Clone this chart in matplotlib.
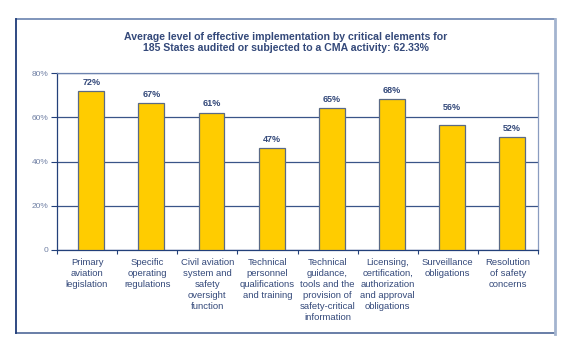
import numpy as np
import matplotlib
matplotlib.use("Agg")
import matplotlib.pyplot as plt
from matplotlib.lines import Line2D

plt.rcParams['font.family'] = ['Liberation Sans', 'DejaVu Sans']

# data
categories = ["Primary\naviation\nlegislation",
              "Specific\noperating\nregulations",
              "Civil aviation\nsystem and\nsafety\noversight\nfunction",
              "Technical\npersonnel\nqualifications\nand training",
              "Technical\nguidance,\ntools and the\nprovision of\nsafety-critical\ninformation",
              "Licensing,\ncertification,\nauthorization\nand approval\nobligations",
              "Surveillance\nobligations",
              "Resolution\nof safety\nconcerns"]
heights = [71.9, 66.3, 62.1, 46.0, 64.0, 68.1, 56.5, 51.2]
value_labels = ["72%", "67%", "61%", "47%", "65%", "68%", "56%", "52%"]
yticks = [0, 20, 40, 60, 80]
ytick_labels = ["0", "20%", "40%", "60%", "80%"]
title = ("Average level of effective implementation by critical elements for\n"
         "185 States audited or subjected to a CMA activity: 62.33%")

navy = "#23407A"
text_col = "#34497A"
tick_col = "#7080A4"
gold = "#FFCC00"

W, H = 572, 352
fig = plt.figure(figsize=(W / 100, H / 100), dpi=100)

# outer frame, each side a little different
def fline(x0, y0, x1, y1, color, lw):
    fig.add_artist(Line2D([x0 / W, x1 / W], [1 - y0 / H, 1 - y1 / H],
                          transform=fig.transFigure, color=color, lw=lw))

fline(16, 18.5, 555, 18.5, "#5C78A8", 1.1)
fline(16, 333, 555, 333, "#5D74A0", 1.3)
fline(16, 18.5, 16, 333, "#1F3C78", 1.3)
fline(555, 18.5, 555, 333.5, "#A4B4CF", 2.0)

ax = fig.add_axes([57 / W, 1 - 250 / H, 481 / W, 177 / H])
x = np.arange(len(categories))
ax.bar(x + 0.07, heights, width=0.43, color=gold, edgecolor="#5A6A86",
       linewidth=0.9, zorder=3)
lift = [0, 0, 0, 0, 0, 0, 6, 0]
for xi, h, lab, d in zip(x, heights, value_labels, lift):
    ax.annotate(lab, (xi + 0.07, h), xytext=(0, 3 + d), textcoords="offset points",
                ha="center", va="bottom", fontsize=6.5, fontweight="bold",
                color=text_col)

ax.set_xlim(-0.5, len(categories) - 0.5)
ax.set_ylim(0, 80)
ax.set_yticks(yticks)
ax.set_yticklabels(ytick_labels, fontsize=6, color=tick_col)
ax.yaxis.grid(True, color="#3A5488", linewidth=0.9, zorder=1)

ax.set_xticks(np.arange(-0.5, len(categories) + 0.5, 1))
ax.set_xticklabels([])
ax.set_xticks(x, minor=True)
ax.set_xticklabels(categories, minor=True, fontsize=6.8, color=text_col,
                   linespacing=1.28, va="top")
ax.tick_params(axis="x", which="minor", length=0, pad=6)
ax.tick_params(axis="x", which="major", length=3, color=navy, direction="out")
ax.tick_params(axis="y", length=4, color=navy, pad=2)
for s in ax.spines.values():
    s.set_linewidth(0.9)
ax.spines["left"].set_color(navy)
ax.spines["bottom"].set_color(navy)
ax.spines["top"].set_color("#6B82AE")
ax.spines["right"].set_color("#8A9CC0")

fig.text(285.5 / W, 1 - 42.5 / H, title, ha="center", va="center",
         fontsize=7.6, fontweight="bold", color=text_col, linespacing=1.1)

fig.savefig("out.png", dpi=100)
